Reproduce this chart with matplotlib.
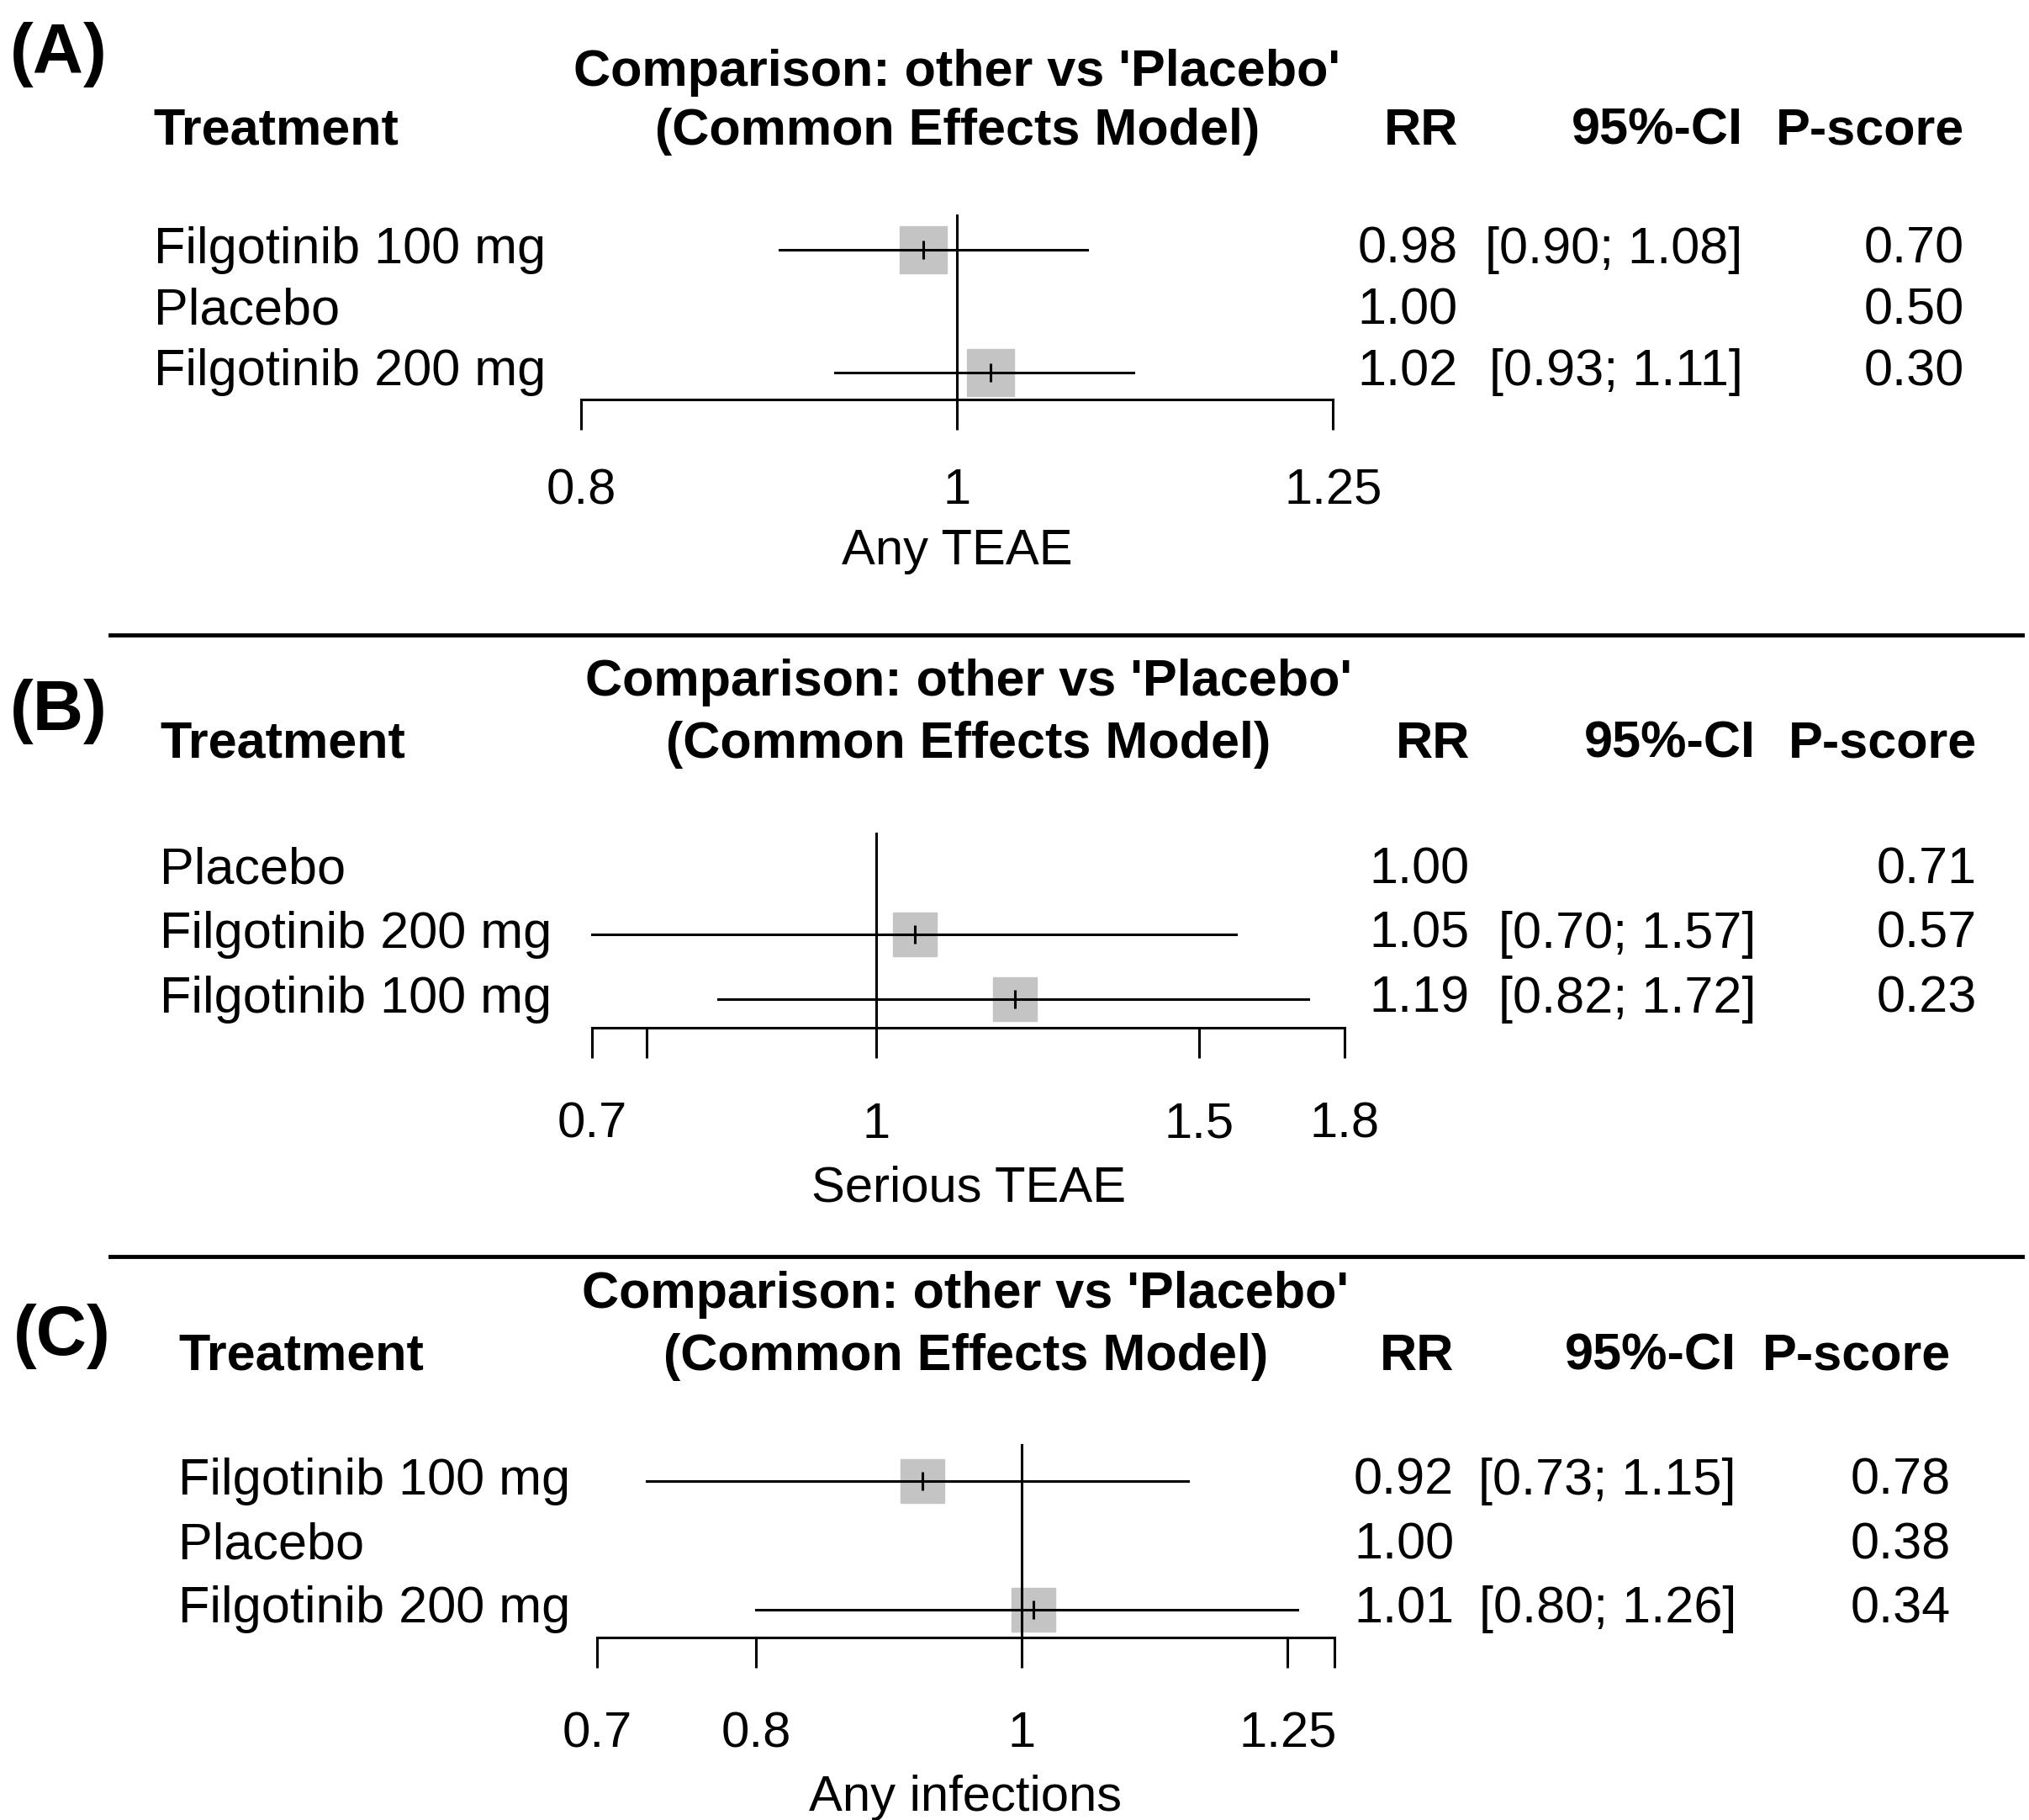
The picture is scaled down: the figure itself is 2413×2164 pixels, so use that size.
import matplotlib
matplotlib.use("Agg")
import matplotlib.pyplot as plt
import matplotlib.transforms as mtransforms
from matplotlib.lines import Line2D

plt.rcParams['font.family'] = ['Liberation Sans', 'DejaVu Sans']

# ---- data ----
a_treat = ["Filgotinib 100 mg", "Placebo", "Filgotinib 200 mg"]
a_rr = [0.98, 1.00, 1.02]
a_lo = [0.90, None, 0.93]
a_hi = [1.08, None, 1.11]
a_pscore = [0.70, 0.50, 0.30]
a_ticks = [0.8, 1, 1.25]
a_ticklabels = ["0.8", "1", "1.25"]
a_xlabel = "Any TEAE"

b_treat = ["Placebo", "Filgotinib 200 mg", "Filgotinib 100 mg"]
b_rr = [1.00, 1.05, 1.19]
b_lo = [None, 0.70, 0.82]
b_hi = [None, 1.57, 1.72]
b_pscore = [0.71, 0.57, 0.23]
b_ticks = [0.7, 0.75, 1, 1.5, 1.8]
b_ticklabels = ["0.7", "", "1", "1.5", "1.8"]
b_xlabel = "Serious TEAE"

c_treat = ["Filgotinib 100 mg", "Placebo", "Filgotinib 200 mg"]
c_rr = [0.92, 1.00, 1.01]
c_lo = [0.73, None, 0.80]
c_hi = [1.15, None, 1.26]
c_pscore = [0.78, 0.38, 0.34]
c_ticks = [0.7, 0.8, 1, 1.25, 1.3]
c_ticklabels = ["0.7", "0.8", "1", "1.25", ""]
c_xlabel = "Any infections"

panel_names = ["(A)", "(B)", "(C)"]
title1 = "Comparison: other vs 'Placebo'"
title2 = "(Common Effects Model)"

# layout in pixels of a 1560 x 1399 grid (scaled to figure fractions)
W, H = 1560.0, 1399.0
def fx(x):
    return x / W
def fy(y):
    return 1 - y / H

FS = 44
LW = 2.2
GREY = "#c4c4c4"

fig = plt.figure(figsize=(24.13, 21.64), dpi=100)

# axes box: left, right, top, bottom (px) ; text columns
layout = [
    dict(ax=(447, 1025, 165, 307), lab=118, rr=1121, ci=1340, p=1510,
         tag=(8, 42), sq=40),
    dict(ax=(455, 1034, 640, 790), lab=123, rr=1130, ci=1350, p=1520,
         tag=(8, 547), sq=38),
    dict(ax=(459, 1026, 1110, 1259), lab=137, rr=1118, ci=1335, p=1500,
         tag=(10, 1027), sq=37),
]

panels = [
    (a_treat, a_rr, a_lo, a_hi, a_pscore, a_ticks, a_ticklabels, a_xlabel),
    (b_treat, b_rr, b_lo, b_hi, b_pscore, b_ticks, b_ticklabels, b_xlabel),
    (c_treat, c_rr, c_lo, c_hi, c_pscore, c_ticks, c_ticklabels, c_xlabel),
]

for k, (treat, rr, lo, hi, ps, ticks, tlabels, xlab) in enumerate(panels):
    L = layout[k]
    x0, x1, yt, yb = L["ax"]
    ax = fig.add_axes([fx(x0), fy(yb), fx(x1) - fx(x0), fy(yt) - fy(yb)])
    ax.set_xscale("log")
    ax.set_xlim(ticks[0], ticks[-1])
    ax.set_ylim(2.44, -0.58)
    for s in ["top", "right", "left"]:
        ax.spines[s].set_visible(False)
    ax.spines["bottom"].set_linewidth(LW)
    ax.set_yticks([])
    ax.set_xticks(ticks)
    ax.set_xticks([], minor=True)
    ax.set_xticklabels([""] * len(ticks))
    ax.tick_params(axis="x", direction="out", length=26, width=LW)
    ax.patch.set_alpha(0)

    # reference line
    ax.axvline(1, color="black", lw=LW, zorder=3)

    for i in range(len(treat)):
        if lo[i] is None:
            continue
        ax.plot(rr[i], i, marker="s", ms=L["sq"], color=GREY, mec=GREY,
                zorder=2, clip_on=False)
        ax.plot([lo[i], hi[i]], [i, i], color="black", lw=LW, zorder=4,
                clip_on=False)
        ax.plot(rr[i], i, marker="|", ms=16, mew=LW, color="black", zorder=5)

    # tick labels and axis label
    for t, lab in zip(ticks, tlabels):
        ax.text(t, 3.94, lab, ha="center", va="center", fontsize=FS - 1,
                clip_on=False)
    xmid = (ticks[0] * ticks[-1]) ** 0.5
    ax.text(xmid, 4.93, xlab, ha="center", va="center", fontsize=FS - 1,
            clip_on=False)

    # titles
    ax.text(xmid, -2.9, title1, ha="center", va="center", fontsize=FS,
            fontweight="bold", clip_on=False)
    ax.text(xmid, -1.94, title2, ha="center", va="center", fontsize=FS,
            fontweight="bold", clip_on=False)

    # text columns (x in figure fraction, y in rows)
    tr = mtransforms.blended_transform_factory(fig.transFigure, ax.transData)
    ax.text(fx(L["lab"]), -1.94, "Treatment", transform=tr, ha="left",
            va="center", fontsize=FS, fontweight="bold")
    ax.text(fx(L["rr"]), -1.94, "RR", transform=tr, ha="right",
            va="center", fontsize=FS, fontweight="bold")
    ax.text(fx(L["ci"]), -1.94, "95%-CI", transform=tr, ha="right",
            va="center", fontsize=FS, fontweight="bold")
    ax.text(fx(L["p"]), -1.94, "P-score", transform=tr, ha="right",
            va="center", fontsize=FS, fontweight="bold")
    for i in range(len(treat)):
        ax.text(fx(L["lab"]), i, treat[i], transform=tr, ha="left",
                va="center", fontsize=FS)
        ax.text(fx(L["rr"]), i, f"{rr[i]:.2f}", transform=tr, ha="right",
                va="center", fontsize=FS)
        if lo[i] is not None:
            ax.text(fx(L["ci"]), i, f"[{lo[i]:.2f}; {hi[i]:.2f}]",
                    transform=tr, ha="right", va="center", fontsize=FS)
        ax.text(fx(L["p"]), i, f"{ps[i]:.2f}", transform=tr, ha="right",
                va="center", fontsize=FS)

    # panel tag
    tx, ty = L["tag"]
    fig.text(fx(tx), fy(ty), panel_names[k], ha="left", va="center",
             fontsize=60, fontweight="bold")

# separators between panels
for ysep in [488, 966]:
    fig.add_artist(Line2D([fx(85), fx(1555)], [fy(ysep), fy(ysep)],
                          color="black", lw=3.5, transform=fig.transFigure))

fig.savefig("out.png", dpi=100, facecolor="white")
